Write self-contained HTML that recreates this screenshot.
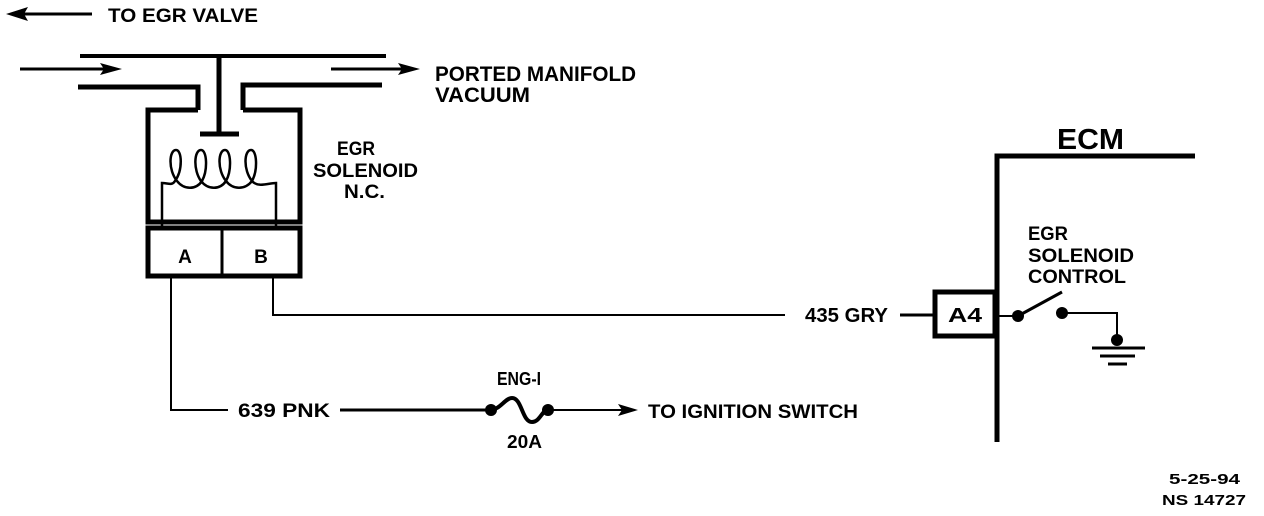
<!DOCTYPE html>
<html><head><meta charset="utf-8"><style>
html,body{margin:0;padding:0;background:#fff;}
svg{display:block;}
text{font-family:"Liberation Sans",sans-serif;font-weight:bold;fill:#000;}
</style></head><body>
<svg width="1264" height="516" viewBox="0 0 1264 516" xmlns="http://www.w3.org/2000/svg">
<g stroke="#000" fill="none" stroke-linecap="butt">
<line x1="18" y1="14" x2="92" y2="14" stroke-width="3"/>
<line x1="80" y1="56" x2="386" y2="56" stroke-width="4"/>
<polyline points="78,87 198,87 198,110" stroke-width="5"/>
<polyline points="382,85 243,85 243,110" stroke-width="5"/>
<line x1="20" y1="69" x2="108" y2="69" stroke-width="3"/>
<line x1="331" y1="69" x2="405" y2="69" stroke-width="3"/>
<polyline points="198,110 148,110 148,222 300,222 300,110 243,110" stroke-width="5"/>
<line x1="219" y1="56" x2="219" y2="132" stroke-width="5"/>
<line x1="200" y1="134" x2="239" y2="134" stroke-width="5"/>
<path d="M162,228 V183 C168,183 172,186 175,181 C183,170 182,150 176,150 C169,150 168,170 177,181 C184,190 196,190 202,181 C208,170 207,150 201,150 C194,150 193,170 201,181 C208,190 220,190 226,181 C232,170 231,150 225,150 C218,150 217,170 226,181 C233,190 245,190 252,181 C258,170 257,150 251,150 C244,150 243,170 252,181 C258,188 268,183 276,183 V228" stroke-width="2.5"/>
<rect x="148" y="228" width="152" height="48" stroke-width="5"/>
<line x1="222" y1="228" x2="222" y2="276" stroke-width="3"/>
<polyline points="171,276 171,410 228,410" stroke-width="2"/>
<polyline points="273,276 273,315 785,315" stroke-width="2"/>
<line x1="900" y1="315" x2="935" y2="315" stroke-width="3"/>
<rect x="935" y="292" width="60" height="44" stroke-width="5"/>
<polyline points="997,442 997,156 1195,156" stroke-width="5"/>
<line x1="997" y1="316" x2="1018" y2="316" stroke-width="2"/>
<line x1="1018" y1="316" x2="1062" y2="292" stroke-width="3"/>
<polyline points="1062,313 1117,313 1117,340" stroke-width="2"/>
<line x1="1092" y1="348" x2="1145" y2="348" stroke-width="3"/>
<line x1="1100" y1="356" x2="1135" y2="356" stroke-width="3"/>
<line x1="1108" y1="364" x2="1127" y2="364" stroke-width="3"/>
<line x1="340" y1="410" x2="490" y2="410" stroke-width="3"/>
<path d="M490,410 C500,410 505,398 512,398 C522,398 522,422 532,422 C540,422 542,410 548,410" stroke-width="4"/>
<line x1="548" y1="410" x2="625" y2="410" stroke-width="2"/>
</g>
<g fill="#000">
<polygon points="6,14 28,7 24,14 28,21"/>
<polygon points="122,69 100,63 104,69 100,75"/>
<polygon points="420,69 398,63 402,69 398,75"/>
<polygon points="638,410 618,404 622,410 618,416"/>
<circle cx="1018" cy="316" r="6"/>
<circle cx="1062" cy="313" r="6"/>
<circle cx="1117" cy="340" r="6"/>
<circle cx="491" cy="410" r="6"/>
<circle cx="548" cy="410" r="6"/>
</g>
<text x="108" y="22" font-size="19" textLength="150" lengthAdjust="spacingAndGlyphs">TO EGR VALVE</text>
<text x="435" y="81" font-size="21" textLength="201" lengthAdjust="spacingAndGlyphs">PORTED MANIFOLD</text>
<text x="435" y="102" font-size="21" textLength="95" lengthAdjust="spacingAndGlyphs">VACUUM</text>
<text x="337" y="155" font-size="19" textLength="38" lengthAdjust="spacingAndGlyphs">EGR</text>
<text x="313" y="177" font-size="19" textLength="105" lengthAdjust="spacingAndGlyphs">SOLENOID</text>
<text x="344" y="198" font-size="19" textLength="41" lengthAdjust="spacingAndGlyphs">N.C.</text>
<text x="185" y="263" font-size="19" text-anchor="middle">A</text>
<text x="261" y="263" font-size="19" text-anchor="middle">B</text>
<text x="805" y="322" font-size="20" textLength="83" lengthAdjust="spacingAndGlyphs">435 GRY</text>
<text x="948" y="322" font-size="20" textLength="34" lengthAdjust="spacingAndGlyphs">A4</text>
<text x="1057" y="149" font-size="29" textLength="67" lengthAdjust="spacingAndGlyphs">ECM</text>
<text x="1028" y="240" font-size="19" textLength="40" lengthAdjust="spacingAndGlyphs">EGR</text>
<text x="1028" y="262" font-size="19" textLength="106" lengthAdjust="spacingAndGlyphs">SOLENOID</text>
<text x="1028" y="283" font-size="19" textLength="98" lengthAdjust="spacingAndGlyphs">CONTROL</text>
<text x="238" y="417" font-size="19" textLength="92" lengthAdjust="spacingAndGlyphs">639 PNK</text>
<text x="497" y="385" font-size="18" textLength="44" lengthAdjust="spacingAndGlyphs">ENG-I</text>
<text x="507" y="448" font-size="18" textLength="35" lengthAdjust="spacingAndGlyphs">20A</text>
<text x="648" y="418" font-size="19" textLength="210" lengthAdjust="spacingAndGlyphs">TO IGNITION SWITCH</text>
<text x="1169" y="484" font-size="15" textLength="71" lengthAdjust="spacingAndGlyphs">5-25-94</text>
<text x="1162" y="505" font-size="15" textLength="84" lengthAdjust="spacingAndGlyphs">NS 14727</text>
</svg>
</body></html>
